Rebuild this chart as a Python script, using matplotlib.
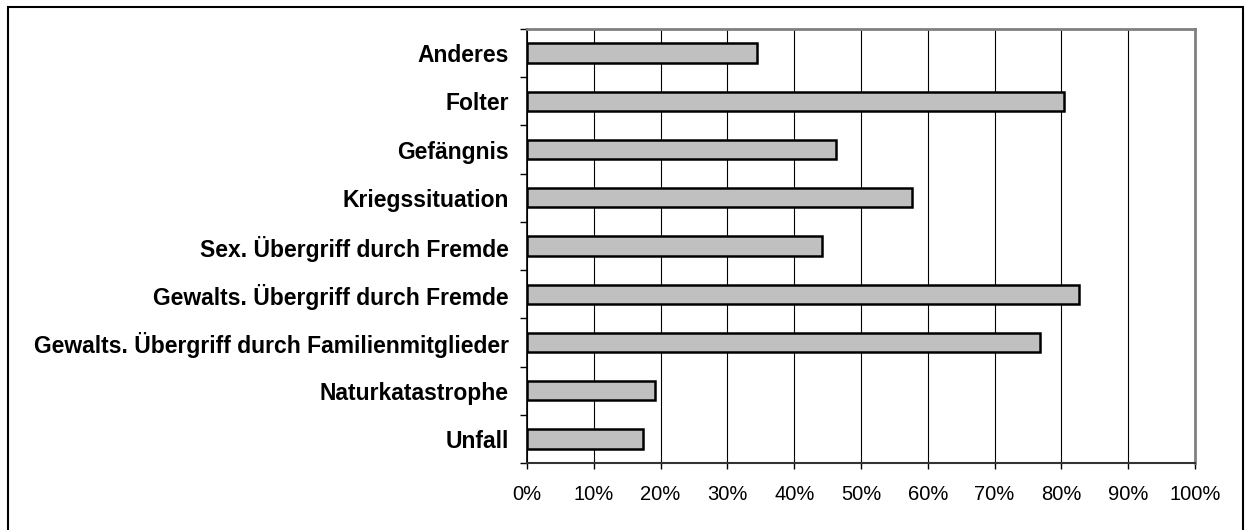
import matplotlib
matplotlib.use("Agg")
import matplotlib.pyplot as plt
import matplotlib.patches as mpatches
import numpy as np

# Kategorien von unten nach oben
kategorien = ["Unfall", "Naturkatastrophe", "Gewalts. Übergriff durch Familienmitglieder",
              "Gewalts. Übergriff durch Fremde", "Sex. Übergriff durch Fremde",
              "Kriegssituation", "Gefängnis", "Folter", "Anderes"]
werte = [17.4, 19.2, 76.8, 82.7, 44.2, 57.7, 46.2, 80.4, 34.5]
xticks = [0, 10, 20, 30, 40, 50, 60, 70, 80, 90, 100]
xlabels = [f"{t}%" for t in xticks]

plt.rcParams['font.family'] = ['Liberation Sans', 'DejaVu Sans']

W, H = 1245, 530
fig = plt.figure(figsize=(W / 100, H / 100), dpi=100)
ax = fig.add_axes([527 / W, 1 - 463 / H, (1195 - 527) / W, (463 - 29) / H])

y = np.arange(len(kategorien))
ax.grid(axis='x', color='black', linewidth=0.8)
ax.set_axisbelow(True)
ax.barh(y, werte, height=0.4, color='#c0c0c0', edgecolor='black', linewidth=1.8, zorder=3)

ax.set_xlim(0, 100)
ax.set_ylim(-0.5, len(kategorien) - 0.5)

ax.set_xticks(xticks)
ax.set_xticklabels(xlabels, fontsize=14.5)
ax.tick_params(axis='x', direction='out', length=4.5, width=1, pad=11)

# Striche an den Grenzen, Beschriftung in der Mitte
ax.set_yticks(np.arange(len(kategorien) + 1) - 0.5)
ax.set_yticklabels([])
ax.set_yticks(y, minor=True)
ax.set_yticklabels(kategorien, minor=True, fontsize=16.5, fontweight='bold')
ax.tick_params(axis='y', which='major', direction='out', length=5, width=1)
ax.tick_params(axis='y', which='minor', length=0, pad=13)

ax.spines['left'].set_color('black')
ax.spines['left'].set_linewidth(1.2)
ax.spines['bottom'].set_color('#333333')
ax.spines['bottom'].set_linewidth(1.5)
ax.spines['top'].set_color('#808080')
ax.spines['top'].set_linewidth(2)
ax.spines['right'].set_color('#808080')
ax.spines['right'].set_linewidth(2)

# Rahmen um das ganze Diagramm
rahmen = mpatches.Rectangle((8 / W, -2 / H), (1243 - 8) / W, (523 + 2) / H,
                            transform=fig.transFigure, fill=False,
                            edgecolor='black', linewidth=1.5, clip_on=False)
fig.patches.append(rahmen)

fig.savefig("out.png", dpi=100)
